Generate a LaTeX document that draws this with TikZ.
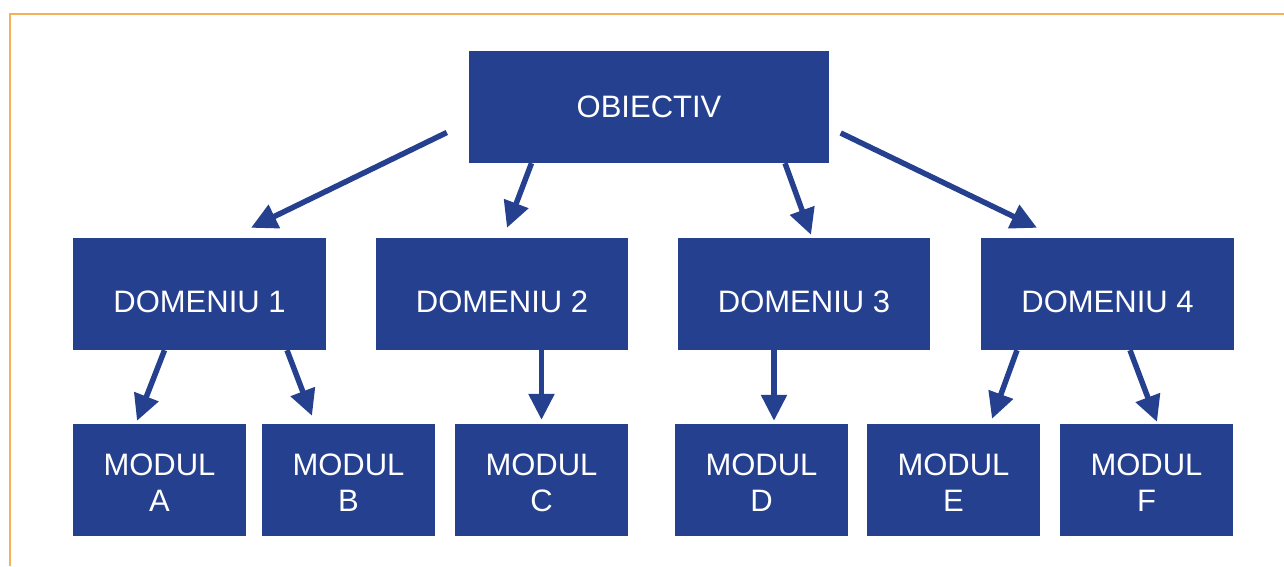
\documentclass[tikz,border=0pt]{standalone}
\usepackage{fontspec}
\setmainfont{Liberation Sans}
\usetikzlibrary{arrows.meta}
\definecolor{boxblue}{RGB}{37,64,143}
\definecolor{frameorange}{RGB}{246,176,88}
\tikzset{
    every node/.style={rectangle, fill=boxblue, text=white, inner sep=0pt,
    	font=\fontsize{31}{36}\selectfont, align=center}
}
\tikzset{
    dombox/.style={minimum width=253pt, minimum height=112pt,
    	text height=36pt, text depth=0pt},
    modbox/.style={minimum width=173pt, minimum height=112pt,
    	text height=62pt, text depth=0pt}
}
\tikzset{
	every edge/.append style={line width=5.5pt, draw=boxblue,
		-{Triangle[width=25pt,length=26pt]}}
}

\begin{document}
\begin{tikzpicture}[x=1pt,y=-1pt]
	\useasboundingbox (0,0) rectangle (1284,566);
	\draw[frameorange, line width=2pt] (9.5,566) -- (9.5,14) -- (1284,14);

	\node (obj) [minimum width=360pt, minimum height=112pt] at (649,107) {OBIECTIV};
	\node (dom1) [dombox] at (199.5,294) {DOMENIU 1};
	\node (dom2) [dombox, minimum width=252pt] at (502,294) {DOMENIU 2};
	\node (dom3) [dombox, minimum width=252pt] at (804,294) {DOMENIU 3};
	\node (dom4) [dombox] at (1107.5,294) {DOMENIU 4};
	\node (modA) [modbox] at (159.5,480) {MODUL\\A};
	\node (modB) [modbox] at (348.5,480) {MODUL\\B};
	\node (modC) [modbox] at (541.5,480) {MODUL\\C};
	\node (modD) [modbox] at (761.5,480) {MODUL\\D};
	\node (modE) [modbox] at (953.5,480) {MODUL\\E};
	\node (modF) [modbox] at (1146.5,480) {MODUL\\F};

	\draw ([xshift=-22pt,yshift=-25.5pt]obj.west) edge ([xshift=51.5pt,yshift=10pt]dom1.north);
	\draw ([xshift=-117.5pt]obj.south) edge ([xshift=5pt,yshift=10pt]dom2.north);
	\draw ([xshift=136pt]obj.south) edge ([xshift=7pt,yshift=3pt]dom3.north);
	\draw ([xshift=11.5pt,yshift=-26pt]obj.east) edge ([xshift=-70.5pt,yshift=10pt]dom4.north);
	\draw ([xshift=-35pt]dom1.south) edge ([xshift=-22.5pt,yshift=3pt]modA.north);
	\draw ([xshift=87.5pt]dom1.south) edge ([xshift=-36.5pt,yshift=8pt]modB.north);
	\draw ([xshift=39.5pt]dom2.south) edge ([yshift=4pt]modC.north);
	\draw ([xshift=-30pt]dom3.south) edge ([xshift=12.5pt,yshift=3pt]modD.north);
	\draw ([xshift=-90.5pt]dom4.south) edge ([xshift=38.5pt,yshift=5pt]modE.north);
	\draw ([xshift=22.5pt]dom4.south) edge ([xshift=10.5pt,yshift=2pt]modF.north);
\end{tikzpicture}
\end{document}
